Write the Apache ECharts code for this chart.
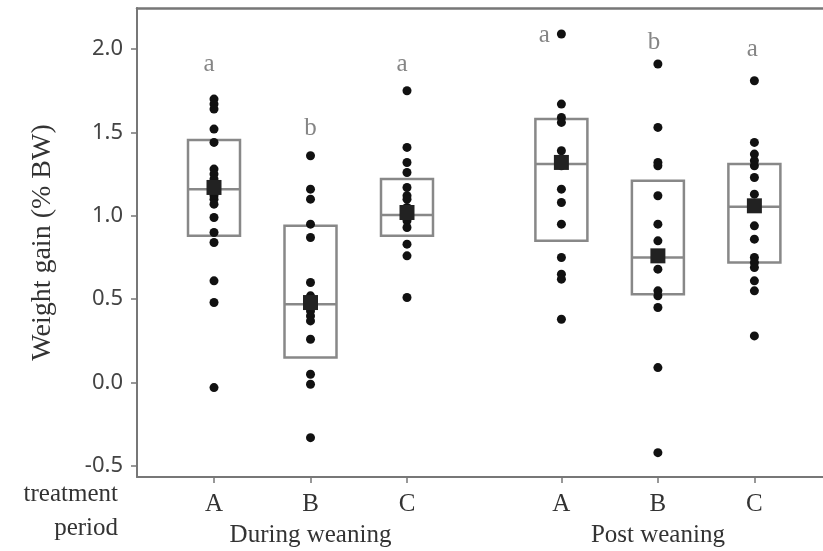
<!DOCTYPE html>
<html>
<head>
<meta charset="utf-8">
<script src="https://cdn.jsdelivr.net/npm/echarts@6/dist/echarts.min.js"></script>
<style>
html,body{margin:0;padding:0;background:#fff;}
#chart{width:823px;height:551px;}
</style>
</head>
<body>
<div id="chart"></div>
<script>
// ---- data ----
var treatments = ['A', 'B', 'C', 'A', 'B', 'C'];
var periods = ['During weaning', 'Post weaning'];
var groupX = [1, 2, 3, 4.6, 5.6, 6.6];
var periodX = [2, 5.6];
var yTicks = [-0.5, 0, 0.5, 1.0, 1.5, 2.0];

var duringA = [1.70, 1.67, 1.64, 1.52, 1.44, 1.28, 1.25, 1.22, 1.19, 1.16, 1.14, 1.12, 1.10, 1.07, 0.99, 0.90, 0.84, 0.61, 0.48, -0.03];
var duringB = [1.36, 1.16, 1.10, 0.95, 0.87, 0.60, 0.52, 0.50, 0.48, 0.47, 0.45, 0.43, 0.40, 0.37, 0.26, 0.05, -0.01, -0.33];
var duringC = [1.75, 1.41, 1.32, 1.26, 1.17, 1.12, 1.10, 1.05, 1.02, 1.00, 0.97, 0.93, 0.83, 0.76, 0.51];
var postA = [2.09, 1.67, 1.59, 1.56, 1.39, 1.33, 1.30, 1.16, 1.08, 0.95, 0.75, 0.65, 0.62, 0.38];
var postB = [1.91, 1.53, 1.32, 1.30, 1.12, 0.95, 0.85, 0.75, 0.68, 0.55, 0.52, 0.45, 0.09, -0.42];
var postC = [1.81, 1.44, 1.37, 1.33, 1.30, 1.23, 1.13, 0.94, 0.86, 0.75, 0.72, 0.69, 0.61, 0.55, 0.28];

var q1 = [0.88, 0.15, 0.88, 0.85, 0.53, 0.72];
var median = [1.16, 0.47, 1.005, 1.31, 0.75, 1.055];
var q3 = [1.455, 0.94, 1.22, 1.58, 1.21, 1.31];
var means = [1.17, 0.48, 1.02, 1.32, 0.76, 1.06];

var letters = ['a', 'b', 'a', 'a', 'b', 'a'];
var letterY = [1.905, 1.525, 1.905, 2.08, 2.04, 1.995];

// ---- build series data ----
var groups = [duringA, duringB, duringC, postA, postB, postC];
var dotData = [];
groups.forEach(function (g, i) {
  g.forEach(function (v) { dotData.push([groupX[i], v]); });
});
var boxData = groupX.map(function (x, i) { return [x, q1[i], median[i], q3[i]]; });
var meanData = groupX.map(function (x, i) { return [x, means[i]]; });
var letterOffsets = [[-5, 0], [0, 0], [-5, 0], [-17, 0], [-4, 0], [-2, 0]];
var letterData = groupX.map(function (x, i) {
  return { value: [x, letterY[i]], label: { offset: letterOffsets[i] } };
});

function nearestIndex(arr, v) {
  var best = 0;
  for (var i = 1; i < arr.length; i++) {
    if (Math.abs(arr[i] - v) < Math.abs(arr[best] - v)) best = i;
  }
  return best;
}

var serif = 'Liberation Serif';
var gray = '#777';
var X_MIN = 0.202, X_MAX = 7.311;

var chart = echarts.init(document.getElementById('chart'), null, { renderer: 'canvas' });
chart.setOption({
  animation: false,
  backgroundColor: '#fff',
  grid: { left: 137, top: 8, right: 0, bottom: 74, show: false },
  xAxis: [{
    type: 'value', min: X_MIN, max: X_MAX,
    axisLine: { show: true, onZero: false, lineStyle: { color: gray, width: 2 } },
    axisTick: { show: true, length: 6, customValues: groupX, lineStyle: { color: gray, width: 1.5 } },
    axisLabel: {
      customValues: groupX, margin: 15,
      fontFamily: serif, fontSize: 25, color: '#333',
      formatter: function (v) { return treatments[nearestIndex(groupX, v)]; }
    },
    splitLine: { show: false }
  }, {
    type: 'value', min: X_MIN, max: X_MAX, position: 'bottom',
    axisLine: { show: false }, axisTick: { show: false },
    axisLabel: {
      customValues: periodX, margin: 46,
      fontFamily: serif, fontSize: 25, color: '#333',
      formatter: function (v) { return periods[nearestIndex(periodX, v)]; }
    },
    splitLine: { show: false }
  }, {
    type: 'value', min: X_MIN, max: X_MAX, position: 'top',
    axisLine: { show: true, onZero: false, lineStyle: { color: gray, width: 2.5 } },
    axisTick: { show: false }, axisLabel: { show: false },
    splitLine: { show: false }
  }],
  yAxis: {
    type: 'value', min: -0.566, max: 2.246,
    name: 'Weight gain (% BW)', nameLocation: 'middle', nameGap: 80,
    nameTextStyle: { fontFamily: serif, fontSize: 28, color: '#333' },
    axisLine: { show: true, onZero: false, lineStyle: { color: gray, width: 2 } },
    axisTick: { show: true, length: 6, customValues: yTicks, lineStyle: { color: gray, width: 1.5 } },
    axisLabel: {
      customValues: yTicks, margin: 14,
      fontFamily: 'Noto Sans', fontSize: 22, color: '#444',
      formatter: function (v) { return v.toFixed(1); }
    },
    splitLine: { show: false }
  },
  series: [{
    type: 'custom',
    data: boxData,
    encode: { x: 0, y: [1, 2, 3] },
    z: 2,
    renderItem: function (params, api) {
      var x = api.value(0);
      var pLow = api.coord([x, api.value(1)]);
      var pMed = api.coord([x, api.value(2)]);
      var pHigh = api.coord([x, api.value(3)]);
      var half = 26;
      return {
        type: 'group',
        children: [{
          type: 'rect',
          shape: { x: pLow[0] - half, y: pHigh[1], width: half * 2, height: pLow[1] - pHigh[1] },
          style: { fill: 'none', stroke: '#888', lineWidth: 2.5 }
        }, {
          type: 'line',
          shape: { x1: pMed[0] - half, y1: pMed[1], x2: pMed[0] + half, y2: pMed[1] },
          style: { stroke: '#888', lineWidth: 2.5 }
        }]
      };
    }
  }, {
    type: 'scatter',
    data: dotData,
    symbol: 'circle', symbolSize: 9,
    itemStyle: { color: '#111', opacity: 1 },
    z: 3
  }, {
    type: 'scatter',
    data: meanData,
    symbol: 'rect', symbolSize: 15,
    itemStyle: { color: '#222', opacity: 1 },
    z: 4
  }, {
    type: 'scatter',
    data: letterData,
    symbolSize: 0,
    z: 5,
    label: {
      show: true, position: 'inside',
      fontFamily: serif, fontSize: 25, color: '#666',
      formatter: function (p) { return letters[p.dataIndex]; }
    }
  }],
  graphic: [{
    type: 'text', x: 118, y: 494,
    style: { text: 'treatment', font: '25px "Liberation Serif"', fill: '#333', align: 'right', verticalAlign: 'middle' }
  }, {
    type: 'text', x: 118, y: 528,
    style: { text: 'period', font: '25px "Liberation Serif"', fill: '#333', align: 'right', verticalAlign: 'middle' }
  }]
});
</script>
</body>
</html>
